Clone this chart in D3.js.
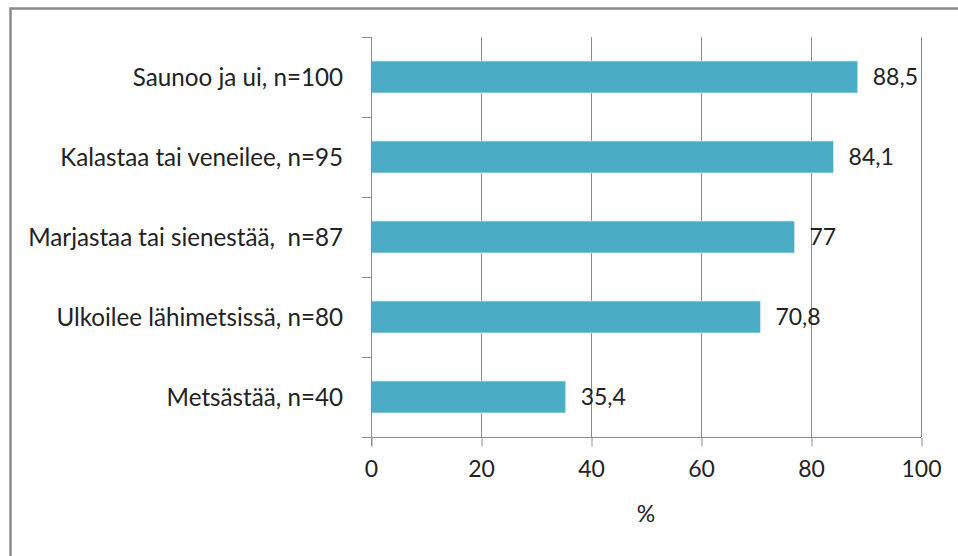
<!DOCTYPE html>
<html>
<head>
<meta charset="utf-8">
<script src="https://cdn.jsdelivr.net/npm/d3@7"></script>
<style>
  html, body { margin: 0; padding: 0; background: #fff; }
  svg { display: block; }
  text { font-family: Lato, "Open Sans", sans-serif; fill: #222; white-space: pre; }
</style>
</head>
<body>
<div id="chart"></div>
<script>
// Activities, share of respondents (%)
const categories = [
  "Saunoo ja ui, n=100",
  "Kalastaa tai veneilee, n=95",
  "Marjastaa tai sienestää,  n=87",
  "Ulkoilee lähimetsissä, n=80",
  "Metsästää, n=40"
];
const values = [88.5, 84.1, 77, 70.8, 35.4];
const valueLabels = ["88,5", "84,1", "77", "70,8", "35,4"];
const xTicks = [0, 20, 40, 60, 80, 100];
const xTitle = "%";

const W = 958, H = 556;
const plot = { left: 371, right: 921, top: 37, bottom: 437 };
const gridColor = "#8c8c8c";
const barColor = "#4bacc6";
const fontSize = 23;
const catFontSize = 24.2;

const svg = d3.select("#chart").append("svg")
  .attr("width", W).attr("height", H);

// outer chart frame (only top and left edges fall inside the canvas)
svg.append("rect")
  .attr("x", 10.5).attr("y", 8.5)
  .attr("width", W + 20).attr("height", H + 20)
  .attr("fill", "none").attr("stroke", "#8a8a8a").attr("stroke-width", 2.5);

const x = d3.scaleLinear().domain([0, 100]).range([plot.left, plot.right]);
const y = d3.scaleBand().domain(categories).range([plot.top, plot.bottom])
  .paddingInner(0.6).paddingOuter(0.3);
const yb = d3.scaleBand().domain(categories).range([plot.top, plot.bottom]);

// vertical gridlines
svg.append("g").selectAll("line").data(xTicks.filter(t => t > 0)).join("line")
  .attr("x1", d => Math.round(x(d)) + 0.5).attr("x2", d => Math.round(x(d)) + 0.5)
  .attr("y1", plot.top).attr("y2", plot.bottom)
  .attr("stroke", gridColor).attr("stroke-width", 1);

// bars
svg.append("g").selectAll("rect").data(values).join("rect")
  .attr("x", x(0))
  .attr("y", (d, i) => y(categories[i]))
  .attr("width", d => x(d) - x(0))
  .attr("height", y.bandwidth())
  .attr("fill", barColor)
  .attr("stroke", "#cde8ef").attr("stroke-width", 0.8);

// value labels
svg.append("g").selectAll("text").data(values).join("text")
  .attr("x", d => x(d) + 15)
  .attr("y", (d, i) => y(categories[i]) + y.bandwidth() / 2)
  .attr("dy", "0.36em")
  .attr("font-size", fontSize)
  .text((d, i) => valueLabels[i]);

// y axis: line, tick marks between categories, labels
const yAxisG = svg.append("g");
yAxisG.append("line")
  .attr("x1", plot.left + 0.5).attr("x2", plot.left + 0.5)
  .attr("y1", plot.top).attr("y2", plot.bottom + 9)
  .attr("stroke", gridColor);
const yTickPos = categories.map(c => yb(c)).concat([plot.bottom]);
yAxisG.selectAll("line.tick").data(yTickPos).join("line").attr("class", "tick")
  .attr("x1", plot.left - 9).attr("x2", plot.left)
  .attr("y1", d => Math.round(d) + 0.5).attr("y2", d => Math.round(d) + 0.5)
  .attr("stroke", gridColor);
yAxisG.selectAll("text").data(categories).join("text")
  .attr("x", plot.left - 28)
  .attr("y", d => yb(d) + yb.bandwidth() / 2)
  .attr("dy", "0.36em")
  .attr("text-anchor", "end")
  .attr("font-size", catFontSize)
  .text(d => d);

// x axis via d3.axisBottom
const xAxisG = svg.append("g")
  .attr("transform", `translate(0,${plot.bottom + 0.5})`)
  .call(d3.axisBottom(x).tickValues(xTicks).tickSize(9).tickPadding(14)
    .tickFormat(d3.format("d")));
xAxisG.select(".domain").attr("stroke", gridColor)
  .attr("d", `M${plot.left - 9},0H${plot.right}`);
xAxisG.selectAll(".tick line").attr("stroke", gridColor)
  .attr("transform", d => `translate(${Math.round(x(d)) + 0.5 - x(d)},0)`);
xAxisG.selectAll(".tick text")
  .attr("font-size", fontSize).attr("font-family", "Lato, sans-serif")
  .attr("fill", "#222");

// x axis title
svg.append("text")
  .attr("x", (plot.left + plot.right) / 2)
  .attr("y", 514).attr("dy", "0.36em")
  .attr("text-anchor", "middle")
  .attr("font-size", fontSize)
  .text(xTitle);
</script>
</body>
</html>
